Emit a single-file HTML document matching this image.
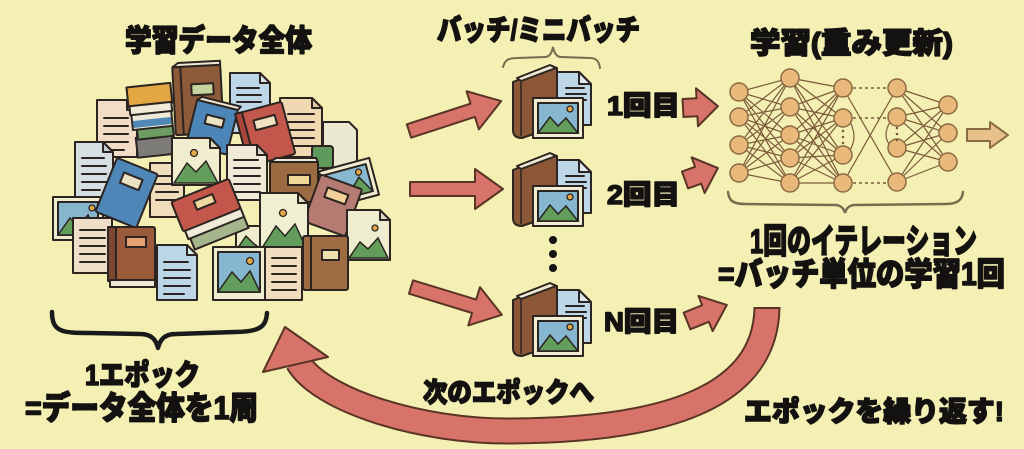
<!DOCTYPE html>
<html><head><meta charset="utf-8">
<style>
html,body{margin:0;padding:0;background:#f4f0b4;}
svg{display:block}
.t{font-family:"Liberation Sans","Noto Sans CJK JP",sans-serif;font-weight:900;fill:#141210;stroke:#141210;stroke-width:1.6;stroke-linejoin:round}
.o{stroke:#2b2420;stroke-width:2;stroke-linejoin:round}
.ln{stroke:#2b2420;stroke-width:2;stroke-linecap:round;fill:none}
.m{stroke:#2b2420;stroke-width:1.5;fill:#629d5c}
.s{stroke:#2b2420;stroke-width:1.3;fill:#e2a84a}
.pk{fill:#d8736a;stroke:#5a3424;stroke-width:2;stroke-linejoin:round}
.nd{fill:#e9b97c;stroke:#8d6a42;stroke-width:1.5}
</style></head><body>
<svg width="1024" height="449" viewBox="0 0 1024 449" xmlns="http://www.w3.org/2000/svg">
<rect width="1024" height="449" fill="#f4f0b4"/>

<!-- ============ DATA PILE ============ -->
<!-- pink doc -->
<path class="o" fill="#f3dcc6" d="M97,100h30l10,10v47h-40z"/>
<path class="o" fill="#e6cdb8" d="M127,100v10h10z"/>
<path class="ln" d="M104,118h24M104,126h24M104,134h24M104,142h24M104,150h20"/>
<!-- stack -->
<g transform="rotate(-6 152 120)">
<rect class="o" fill="#7d7b78" x="134" y="136" width="38" height="20"/>
<rect class="o" fill="#6c9c62" x="136" y="127" width="36" height="11"/>
<rect class="o" fill="#eeeada" x="132" y="112" width="40" height="16"/>
<rect fill="#4f88b4" x="133" y="119" width="38" height="7"/>
<rect class="o" fill="#e3a744" x="130" y="85" width="44" height="20"/>
<rect class="o" fill="#f0ebd8" x="131" y="104" width="42" height="9"/>
</g>
<!-- brown standing book -->
<g transform="rotate(-3 198 100)">
<rect class="o" fill="#8d5a3a" x="174" y="66" width="48" height="68" rx="2"/>
<path class="o" fill="#efe8d4" d="M174,66l6,-4h42v4z"/>
<path class="ln" d="M182,67v66"/>
<rect class="o" fill="#c6d59e" x="192" y="84" width="22" height="11"/>
</g>
<!-- blue doc top -->
<path class="o" fill="#bdd7e8" d="M230,73h30l10,10v50h-40z"/>
<path class="o" fill="#dbe8ef" d="M260,73v10h10z"/>
<path class="ln" d="M237,88h22M237,95h24M237,102h24"/>
<!-- beige doc right -->
<path class="o" fill="#f0d8b2" d="M280,98h32l10,10v49h-42z"/>
<path class="o" fill="#e4c9a0" d="M312,98v10h10z"/>
<path class="ln" d="M288,114h26M288,122h26M288,130h26M288,138h26M288,146h26"/>
<!-- far right doc -->
<path class="o" fill="#ebe9cf" d="M323,122h26l8,8v40h-34z"/>
<!-- blue book tilted -->
<g transform="rotate(14 211 127)">
<rect class="o" fill="#4c86b8" x="191" y="104" width="42" height="46" rx="2"/>
<path class="o" fill="#efe8d4" d="M191,104l4,-4h40l-2,4z"/>
<rect class="o" fill="#ece3c2" x="204" y="116" width="18" height="9"/>
</g>
<!-- red book -->
<g transform="rotate(-15 265 133)">
<rect class="o" fill="#c4574c" x="241" y="107" width="48" height="54" rx="2"/>
<rect class="o" fill="#a8463e" x="241" y="107" width="7" height="54"/>
<rect class="o" fill="#f2e2c2" x="257" y="118" width="22" height="10"/>
</g>
<!-- mug -->
<rect class="o" fill="#5f9a5c" x="312" y="146" width="21" height="22" rx="3"/>
<!-- grey doc left -->
<path class="o" fill="#d5dee0" d="M75,142h28l10,10v45h-38z"/>
<path class="o" fill="#c3ccd0" d="M103,142v10h10z"/>
<path class="ln" d="M82,158h22M82,166h24M82,174h24M82,182h24M82,190h18"/>
<!-- doc behind -->
<rect class="o" fill="#efdcba" x="150" y="163" width="34" height="54"/>
<path class="ln" d="M156,176h22M156,184h22M156,192h22M156,200h22"/>
<!-- image doc -->
<path class="o" fill="#f1eed0" d="M172,138h38l10,10v37h-48z"/>
<path class="o" fill="#e2dfc0" d="M210,138v10h10z"/>
<path class="m" d="M174,183L187,163L196,172L206,161L218,183Z"/>
<circle class="s" cx="194" cy="153" r="3.5"/>
<!-- doc center -->
<path class="o" fill="#efead8" d="M227,145h30l10,10v45h-40z"/>
<path class="o" fill="#dcd6c2" d="M257,145v10h10z"/>
<path class="ln" d="M234,160h24M234,168h26M234,176h26M234,184h26M234,192h26"/>
<!-- brown book right -->
<rect class="o" fill="#9b6b42" x="270" y="162" width="48" height="40" rx="2"/>
<path class="o" fill="#efe8d4" d="M270,162l6,-4h40l2,4z"/>
<rect class="o" fill="#f0d898" x="288" y="175" width="22" height="10"/>
<!-- image card right -->
<g transform="rotate(-15 349 183)">
<rect class="o" fill="#f1edd0" x="323" y="164" width="52" height="38"/>
<rect class="o" fill="#87b8d0" x="328" y="169" width="42" height="28"/>
<path class="m" d="M328,197L342,182L350,190L360,180L370,197Z"/>
<circle class="s" cx="361" cy="175" r="3"/>
</g>
<!-- image left -->
<rect class="o" fill="#f0ecd0" x="53" y="197" width="50" height="43"/>
<rect class="o" fill="#86b6ce" x="58" y="202" width="40" height="33"/>
<path class="m" d="M58,235L70,218L78,226L88,215L98,235Z"/>
<circle class="s" cx="92" cy="208" r="3"/>
<!-- blue book big left -->
<g transform="rotate(22 127 192)">
<rect class="o" fill="#4e86b8" x="105" y="164" width="44" height="58" rx="2"/>
<rect class="o" fill="#ebe2c4" x="117" y="175" width="20" height="11"/>
</g>
<!-- doc -->
<rect class="o" fill="#efdfc8" x="73" y="218" width="39" height="55"/>
<path class="ln" d="M80,230h25M80,238h25M80,246h25M80,254h25M80,262h25"/>
<!-- mauve book -->
<g transform="rotate(20 332 205)">
<rect class="o" fill="#b57b72" x="311" y="180" width="44" height="50" rx="2"/>
<rect class="o" fill="#f0d098" x="322" y="190" width="22" height="10"/>
</g>
<!-- small green piece -->
<rect class="o" fill="#eeeccc" x="236" y="226" width="26" height="24"/>
<path class="m" d="M237,249L246,236L253,243L261,249Z"/>
<!-- image doc center right -->
<path class="o" fill="#f0efd2" d="M260,193h38l10,10v47h-48z"/>
<path class="o" fill="#dedcc0" d="M298,193v10h10z"/>
<path class="m" d="M262,248L276,226L285,236L295,224L306,248Z"/>
<circle class="s" cx="283" cy="213" r="3.5"/>
<!-- image doc far right -->
<path class="o" fill="#efedcf" d="M347,210h33l10,10v40h-43z"/>
<path class="o" fill="#dedcc0" d="M380,210v10h10z"/>
<path class="m" d="M349,258L360,242L368,249L378,238L388,258Z"/>
<circle class="s" cx="375" cy="228" r="3"/>
<!-- red book stack -->
<g transform="rotate(-22 211 215)">
<rect class="o" fill="#a6b68c" x="183" y="228" width="58" height="13"/>
<rect class="o" fill="#f0ead8" x="181" y="219" width="60" height="10"/>
<rect class="o" fill="#c4574c" x="179" y="188" width="62" height="32" rx="2"/>
<rect class="o" fill="#f0d8a0" x="200" y="196" width="20" height="9"/>
</g>
<!-- brown book bottom left -->
<rect class="o" fill="#9b5a3a" x="108" y="227" width="47" height="54" rx="2"/>
<rect class="o" fill="#7d4630" x="108" y="227" width="8" height="54"/>
<rect class="o" fill="#e9a070" x="126" y="237" width="20" height="10"/>
<rect class="o" fill="#efe9d6" x="110" y="280" width="45" height="7"/>
<!-- brown book bottom right -->
<rect class="o" fill="#9d6c42" x="303" y="236" width="45" height="54" rx="2"/>
<path class="ln" d="M311,237v52"/>
<rect class="o" fill="#f0e0b0" x="322" y="250" width="17" height="10"/>
<!-- blue doc bottom -->
<path class="o" fill="#bcd6e8" d="M157,245h30l10,10v45h-40z"/>
<path class="o" fill="#d8e6ee" d="M187,245v10h10z"/>
<path class="ln" d="M164,262h24M164,270h26M164,278h26M164,286h26M164,294h20"/>
<!-- image bottom -->
<rect class="o" fill="#f0ecd0" x="213" y="247" width="52" height="53"/>
<rect class="o" fill="#86b7d0" x="218" y="252" width="42" height="40"/>
<path class="m" d="M218,292L232,272L241,282L250,271L260,292Z"/>
<circle class="s" cx="250" cy="261" r="3.5"/>
<!-- doc bottom -->
<rect class="o" fill="#f1dcc0" x="265" y="247" width="37" height="53"/>
<path class="ln" d="M272,258h24M272,266h24M272,274h24M272,282h24M272,290h24"/>

<!-- brace under pile -->
<path d="M52,312C52,332 62,333 90,333L140,334C152,334 156,340 158,348C160,340 164,334 176,334L235,332C262,332 266,325 267,313" fill="none" stroke="#1a1a1a" stroke-width="4.5" stroke-linecap="round" stroke-linejoin="round"/>

<!-- ============ BATCH ICONS ============ -->
<path d="M503,67C505,60 508,58 518,58L545,57C550,57 552,52 553,47C554,52 556,57 561,57L590,58C597,58 599,62 600,68" fill="none" stroke="#7a6a50" stroke-width="2" stroke-linecap="round"/>

<g>
<path class="o" fill="#8c5737" d="M513,82L552,66L557,68L557,126L522,138Q513,138 513,130Z"/>
<path class="o" fill="#efe8d2" d="M517,78L550,65L556,68L521,81Z"/>
<path fill="none" stroke="#2b2420" stroke-width="1.5" d="M521,82L521,136"/>
<path class="o" fill="#bdd7e9" d="M557,72h22l12,12v41h-34z"/>
<path class="o" fill="#dbe8f0" d="M579,72v12h12z"/>
<path class="ln" d="M566,88h18M566,94h20M566,100h20"/>
<rect class="o" fill="#f1edd2" x="533" y="98" width="50" height="40"/>
<rect class="o" fill="#86b6d0" x="538" y="103" width="40" height="30"/>
<path class="m" d="M538,133L550,117L558,126L566,118L578,133Z"/>
<circle class="s" cx="570" cy="109" r="3"/>
</g>
<g transform="translate(0,88)">
<path class="o" fill="#8c5737" d="M513,82L552,66L557,68L557,126L522,138Q513,138 513,130Z"/>
<path class="o" fill="#efe8d2" d="M517,78L550,65L556,68L521,81Z"/>
<path fill="none" stroke="#2b2420" stroke-width="1.5" d="M521,82L521,136"/>
<path class="o" fill="#bdd7e9" d="M557,72h22l12,12v41h-34z"/>
<path class="o" fill="#dbe8f0" d="M579,72v12h12z"/>
<path class="ln" d="M566,88h18M566,94h20M566,100h20"/>
<rect class="o" fill="#f1edd2" x="533" y="98" width="50" height="40"/>
<rect class="o" fill="#86b6d0" x="538" y="103" width="40" height="30"/>
<path class="m" d="M538,133L550,117L558,126L566,118L578,133Z"/>
<circle class="s" cx="570" cy="109" r="3"/>
</g>
<g transform="translate(0,218)">
<path class="o" fill="#8c5737" d="M513,82L552,66L557,68L557,126L522,138Q513,138 513,130Z"/>
<path class="o" fill="#efe8d2" d="M517,78L550,65L556,68L521,81Z"/>
<path fill="none" stroke="#2b2420" stroke-width="1.5" d="M521,82L521,136"/>
<path class="o" fill="#bdd7e9" d="M557,72h22l12,12v41h-34z"/>
<path class="o" fill="#dbe8f0" d="M579,72v12h12z"/>
<path class="ln" d="M566,88h18M566,94h20M566,100h20"/>
<rect class="o" fill="#f1edd2" x="533" y="98" width="50" height="40"/>
<rect class="o" fill="#86b6d0" x="538" y="103" width="40" height="30"/>
<path class="m" d="M538,133L550,117L558,126L566,118L578,133Z"/>
<circle class="s" cx="570" cy="109" r="3"/>
</g>
<circle cx="553" cy="240" r="4" fill="#141210"/>
<circle cx="553" cy="254" r="4" fill="#141210"/>
<circle cx="553" cy="268" r="4" fill="#141210"/>

<!-- input arrows -->
<path class="pk" transform="translate(409,131) rotate(-18)" d="M0,-7H67V-20L97,0L67,20V7H0Z"/>
<path class="pk" transform="translate(410,189)" d="M0,-7H65V-20L93,0L65,20V7H0Z"/>
<path class="pk" transform="translate(411,287) rotate(17)" d="M0,-7H66V-20L95,0L66,20V7H0Z"/>
<!-- small arrows -->
<path class="pk" transform="translate(683,108) rotate(-3)" d="M0,-9H14V-19L35,0L14,19V9H0Z"/>
<path class="pk" transform="translate(685,180) rotate(-20)" d="M0,-9H14V-19L35,0L14,19V9H0Z"/>
<path class="pk" transform="translate(687,321) rotate(-22)" d="M0,-9H20V-19L43,0L20,19V9H0Z"/>

<!-- ============ NEURAL NET ============ -->
<path fill="none" stroke="#7a5a3a" stroke-width="1.2" d="
M739 92L790 78M739 92L790 107M739 92L790 135M739 92L790 158M739 92L790 183
M739 117L790 78M739 117L790 107M739 117L790 135M739 117L790 158M739 117L790 183
M739 145L790 78M739 145L790 107M739 145L790 135M739 145L790 158M739 145L790 183
M739 173L790 78M739 173L790 107M739 173L790 135M739 173L790 158M739 173L790 183
M790 78L843 88M790 78L843 118M790 78L843 155M790 78L843 183
M790 107L843 88M790 107L843 118M790 107L843 155M790 107L843 183
M790 135L843 88M790 135L843 118M790 135L843 155M790 135L843 183
M790 158L843 88M790 158L843 118M790 158L843 155M790 158L843 183
M790 183L843 88M790 183L843 118M790 183L843 155M790 183L843 183
M897 88L948 105M897 88L948 133M897 88L948 162
M897 117L948 105M897 117L948 133M897 117L948 162
M897 148L948 105M897 148L948 133M897 148L948 162
M897 182L948 105M897 182L948 133M897 182L948 162
M843 88L897 182M843 183L897 88
M850,122Q858,137 850,150M890,122Q882,136 890,145"/>
<path fill="none" stroke="#7a5a3a" stroke-width="1.5" stroke-dasharray="3 3" d="M853 88H887M853 118H887M853 183H887"/>
<g>
<circle class="nd" cx="739" cy="92" r="9"/><circle class="nd" cx="739" cy="117" r="9"/><circle class="nd" cx="739" cy="145" r="9"/><circle class="nd" cx="739" cy="173" r="9"/>
<circle class="nd" cx="790" cy="78" r="9"/><circle class="nd" cx="790" cy="107" r="9"/><circle class="nd" cx="790" cy="135" r="9"/><circle class="nd" cx="790" cy="158" r="9"/><circle class="nd" cx="790" cy="183" r="9"/>
<circle class="nd" cx="843" cy="88" r="9"/><circle class="nd" cx="843" cy="118" r="9"/><circle class="nd" cx="843" cy="155" r="9"/><circle class="nd" cx="843" cy="183" r="9"/>
<circle class="nd" cx="897" cy="88" r="9"/><circle class="nd" cx="897" cy="117" r="9"/><circle class="nd" cx="897" cy="148" r="9"/><circle class="nd" cx="897" cy="182" r="9"/>
<circle class="nd" cx="948" cy="105" r="9"/><circle class="nd" cx="948" cy="133" r="9"/><circle class="nd" cx="948" cy="162" r="9"/>
</g>
<g fill="#7a5a3a">
<circle cx="843" cy="131" r="1.3"/><circle cx="843" cy="137" r="1.3"/><circle cx="843" cy="143" r="1.3"/>
<circle cx="897" cy="128" r="1.3"/><circle cx="897" cy="134" r="1.3"/><circle cx="897" cy="140" r="1.3"/>
</g>
<path fill="#e7c08a" stroke="#8a6a42" stroke-width="2" stroke-linejoin="round" d="M967,129H990V122L1008,135L990,148V141H967Z"/>
<path d="M728,192C729,200 732,204 745,204L835,205C841,205 844,209 845,213C846,209 849,205 855,205L945,204C958,204 962,200 963,192" fill="none" stroke="#7a6a50" stroke-width="2.5" stroke-linecap="round"/>

<!-- ============ BIG CURVED ARROW ============ -->
<path d="M767,308C765,400 660,430 512,431C420,432 320,400 298,362" fill="none" stroke="#5a3424" stroke-width="27"/>
<path d="M767,308C765,400 660,430 512,431C420,432 320,400 298,362" fill="none" stroke="#d8736a" stroke-width="23"/>
<path d="M753.5,308H780.5" stroke="#5a3424" stroke-width="2"/>
<path class="pk" d="M285,327L328,357L263,372Z"/>

<!-- ============ TEXT ============ -->
<text class="t" x="125" y="51" font-size="30" textLength="187" lengthAdjust="spacingAndGlyphs">学習データ全体</text>
<text class="t" x="437" y="40" font-size="29" textLength="203" lengthAdjust="spacingAndGlyphs">バッチ/ミニバッチ</text>
<text class="t" x="750" y="53" font-size="29" textLength="203" lengthAdjust="spacingAndGlyphs">学習(重み更新)</text>
<text class="t" x="607" y="115" font-size="27" textLength="73" lengthAdjust="spacingAndGlyphs">1回目</text>
<text class="t" x="607" y="204" font-size="27" textLength="73" lengthAdjust="spacingAndGlyphs">2回目</text>
<text class="t" x="604" y="331" font-size="27" textLength="75" lengthAdjust="spacingAndGlyphs">N回目</text>
<text class="t" x="750" y="253" font-size="34" textLength="227" lengthAdjust="spacingAndGlyphs">1回のイテレーション</text>
<text class="t" x="718" y="285" font-size="32" textLength="287" lengthAdjust="spacingAndGlyphs">=バッチ単位の学習1回</text>
<text class="t" x="85" y="385" font-size="29" textLength="115" lengthAdjust="spacingAndGlyphs">1エポック</text>
<text class="t" x="25" y="419" font-size="32" textLength="233" lengthAdjust="spacingAndGlyphs">=データ全体を1周</text>
<text class="t" x="423" y="402" font-size="27" textLength="171" lengthAdjust="spacingAndGlyphs">次のエポックへ</text>
<text class="t" x="744" y="421" font-size="28" textLength="260" lengthAdjust="spacingAndGlyphs">エポックを繰り返す!</text>
</svg>
</body></html>
